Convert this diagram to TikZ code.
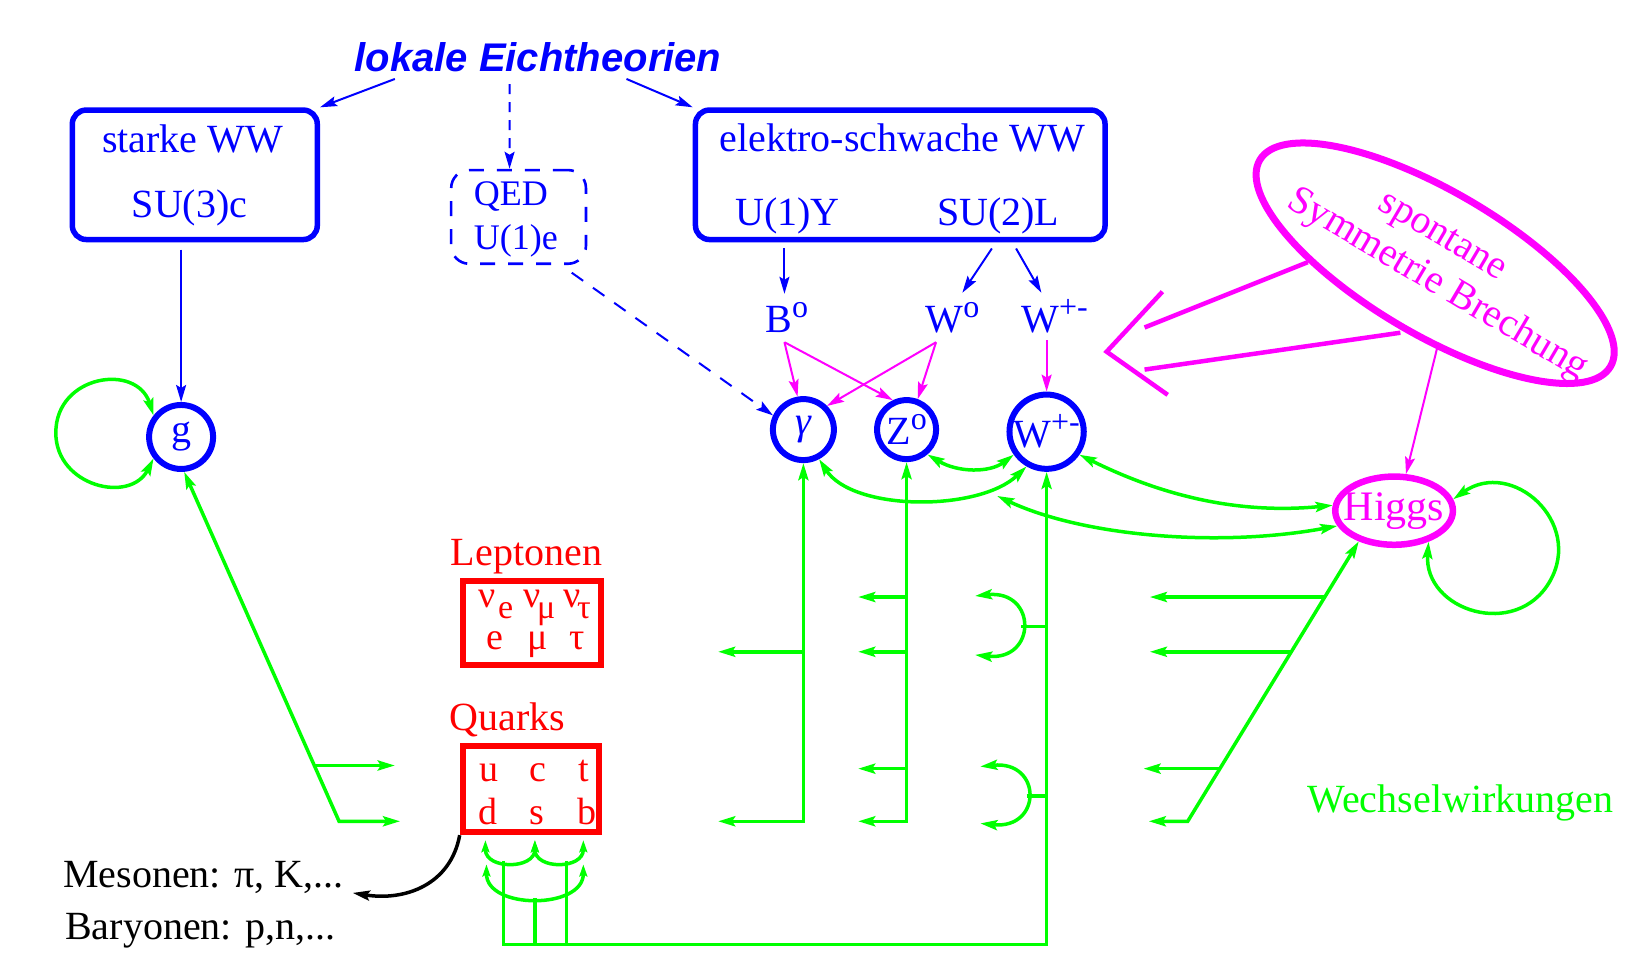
\documentclass[tikz,border=0pt]{standalone}
\usepackage{fontspec}
\setmainfont{Liberation Serif}
\newfontfamily\titlefont{Liberation Sans}
\usetikzlibrary{arrows.meta,shapes.geometric}
\definecolor{cb}{RGB}{0,0,255}
\definecolor{cg}{RGB}{0,255,0}
\definecolor{cm}{RGB}{255,0,255}
\definecolor{cr}{RGB}{255,0,0}
\newcommand\fsz[1]{\fontsize{#1}{#1}\selectfont}
\newcommand\hsp[1]{\raisebox{15pt}{\fsz{32}#1}}
\begin{document}
\begin{tikzpicture}[x=1.053pt,y=-1.053pt,
  >={Stealth[length=17pt,width=10pt,inset=3pt]},
  txt/.style={inner sep=0pt,outer sep=0pt,font=\fsz{40}},
  btxt/.style={txt,text=cb},
  rtxt/.style={txt,text=cr},
  mtxt/.style={txt,text=cm},
  ktxt/.style={txt,text=black},
  gtxt/.style={txt,text=cg},
  bbox/.style={draw=cb,line width=5.5pt,rounded corners=14pt,inner sep=0pt},
  qbox/.style={draw=cb,line width=2.6pt,rounded corners=18pt,inner sep=0pt,dash pattern=on 15pt off 13pt},
  rbox/.style={draw=cr,line width=6pt,inner sep=0pt},
  bcirc/.style={circle,draw=cb,line width=6pt,inner sep=0pt,text=cb,font=\fsz{40}},
  barr/.style={draw=cb,line width=2pt,->},
  marr/.style={draw=cm,line width=2pt,->},
  mthick/.style={draw=cm,line width=4.5pt},
  gl/.style={draw=cg,line width=3.5pt},
  gq/.style={gl,{Stealth[length=12pt,width=8pt,inset=2pt]}-{Stealth[length=12pt,width=8pt,inset=2pt]}},
  karr/.style={draw=black,line width=3.5pt,->},
]
\useasboundingbox (0,0) rectangle (1568,927);

% title
\node[txt,text=cb,font=\fsz{40}\titlefont\bfseries\itshape,anchor=base] (title) at (511,68) {lokale Eichtheorien};

% boxes
\node[bbox,minimum width=245pt,minimum height=129.5pt] (starke) at (185,166) {};
\node[btxt,anchor=base] (starkeA) at (183,145) {starke WW};
\node[btxt,anchor=base] (starkeB) at (180,207) {SU(3)c};

\node[bbox,minimum width=409.6pt,minimum height=129.5pt] (ew) at (855,166) {};
\node[btxt,anchor=base] (ewA) at (857,144) {elektro-schwache WW};
\node[btxt,anchor=base] (ewB) at (748,214) {U(1)Y};
\node[btxt,anchor=base] (ewC) at (948,214) {SU(2)L};

\node[qbox,minimum width=134.8pt,minimum height=93.7pt] (qed) at (492.5,206) {};
\node[btxt,font=\fsz{36},anchor=base west] (qedA) at (450,195) {QED};
\node[btxt,font=\fsz{36},anchor=base west] (qedB) at (450,237) {U(1)e};

% title arrows
\coordinate (t1) at (375,75);
\coordinate (t2) at (595,75);
\coordinate (t3) at (484,80);
\draw[barr] (t1) -- (starke.north east);
\draw[barr] (t2) -- (ew.north west);
\draw[barr,dash pattern=on 10pt off 8pt] (t3) -- ([xshift=-9pt]qed.north);

% gauge bosons
\node[bcirc,minimum size=64pt] (g) at (172,415) {g};
\node[bcirc,minimum size=61pt] (gam) at (763,408) {\itshape γ};
\node[bcirc,minimum size=59pt] (Z) at (861,408) {Z\hsp{o}};
\node[bcirc,minimum size=73pt] (W) at (994,410) {W\hsp{+-}};

\node[btxt,anchor=base west] (Bo) at (727,316) {B\hsp{o}};
\node[btxt,anchor=base west] (Wo) at (879,316) {W\hsp{o}};
\node[btxt,anchor=base west] (Wpm) at (970,316) {W\hsp{+-}};

\coordinate (s1) at (172,237);
\draw[barr] (s1) -- (g.north);
\coordinate (e1) at (745,236);
\coordinate (e2) at (942,236);
\coordinate (e3) at (965,236);
\coordinate (b1) at (745,279);
\coordinate (b2) at (914,278);
\coordinate (b3) at (989,278);
\draw[barr] (e1) -- (b1);
\draw[barr] (e2) -- (b2);
\draw[barr] (e3) -- (b3);

\coordinate (qS) at (543,259);
\draw[barr,dash pattern=on 14pt off 12pt] (qS) -- (gam.155);

% mixing
\coordinate (bS) at (745,325);
\coordinate (wS) at (889,325);
\coordinate (wpS) at (994,323);
\draw[marr] (bS) -- (gam.100);
\draw[marr] (bS) -- (Z.115);
\draw[marr] (wS) -- (gam.45);
\draw[marr] (wS) -- (Z.70);
\draw[marr] (wpS) -- (W.north);

% spontaneous symmetry breaking
\node[ellipse,draw=cm,line width=7pt,minimum width=407pt,minimum height=143pt,inner sep=0pt,rotate=-30.5] (ssb) at (1363,250) {};
\node[mtxt,rotate=-30.5,anchor=base] (sp1) at (1365.6,232) {spontane};
\node[mtxt,rotate=-30.5,anchor=base] (sp2) at (1360.5,278.2) {Symmetrie Brechung};
\coordinate (c1) at (1104,277);
\coordinate (c2) at (1051,334);
\coordinate (c3) at (1109,375);
\draw[mthick] (c1) -- (c2) -- (c3);
\coordinate (l1a) at (1242,249);
\coordinate (l1b) at (1087,311);
\coordinate (l2a) at (1330,316);
\coordinate (l2b) at (1087,351);
\draw[mthick] (l1a) -- (l1b);
\draw[mthick] (l2a) -- (l2b);

% Higgs
\node[ellipse,draw=cm,line width=6.5pt,minimum width=117.7pt,minimum height=68.2pt,inner sep=0pt] (higgs) at (1324,485) {};
\node[mtxt,font=\fsz{42}] (higgsT) at (1324,485) {Higgs};
\coordinate (hS) at (1365,330);
\draw[marr] (hS) -- (higgs.72);

% fermions
\node[rtxt,anchor=base] (lepT) at (500,537) {Leptonen};
\node[rbox,minimum width=138pt,minimum height=84pt] (lep) at (505,591.5) {};
\node[rtxt,font=\fsz{38},anchor=base west] (n1) at (454,577) {ν};
\node[rtxt,font=\fsz{38},anchor=base west] (n2) at (497,577) {ν};
\node[rtxt,font=\fsz{38},anchor=base west] (n3) at (535,577) {ν};
\node[rtxt,font=\fsz{34},anchor=base west] (n1s) at (473,587) {e};
\node[rtxt,font=\fsz{34},anchor=base west] (n2s) at (510,587) {μ};
\node[rtxt,font=\fsz{34},anchor=base west] (n3s) at (548,587) {τ};
\node[rtxt,font=\fsz{38},anchor=base west] (l1) at (462,617) {e};
\node[rtxt,font=\fsz{38},anchor=base west] (l2) at (501,617) {μ};
\node[rtxt,font=\fsz{38},anchor=base west] (l3) at (541,617) {τ};

\node[rtxt,anchor=base] (quT) at (482,694) {Quarks};
\node[rbox,minimum width=136pt,minimum height=86pt] (qu) at (504,749.5) {};
\node[rtxt,font=\fsz{38},anchor=base west] (q1) at (455,742) {u};
\node[rtxt,font=\fsz{38},anchor=base west] (q2) at (503,742) {c};
\node[rtxt,font=\fsz{38},anchor=base west] (q3) at (549,742) {t};
\node[rtxt,font=\fsz{38},anchor=base west] (q4) at (454,783) {d};
\node[rtxt,font=\fsz{38},anchor=base west] (q5) at (503,783) {s};
\node[rtxt,font=\fsz{38},anchor=base west] (q6) at (548,783) {b};

\node[ktxt,anchor=base west] (mes) at (60,843) {Mesonen: π, K,...};
\node[ktxt,anchor=base west] (bar) at (62,892) {Baryonen: p,n,...};
\coordinate (mT) at (335,848);
\draw[karr] (qu.south west) .. controls (428,840) and (385,856) .. (mT);

\node[gtxt] (ww) at (1387,763) {Wechselwirkungen};

% ---- green interactions ----
% gluon self coupling
\draw[gl,<->] (g.-142) .. controls (123.7,478.8) and (53,461.9) .. (53,411) .. controls (53,355.9) and (129.9,344.3) .. (g.142);
% gluon - quarks
\coordinate (ga) at (322,780);
\coordinate (gaE) at (380,780);
\coordinate (gb) at (298.5,727);
\coordinate (gbE) at (375,727);
\draw[gl,<->] (gaE) -- (ga) -- (g.-85);
\draw[gl,->] (gb) -- (gbE);

% photon
\draw[gl,<->] (682,780) -- (763,780) -- (gam.south);
\draw[gl,->] (763,619) -- (682,619);
% Z
\draw[gl,<->] (815,780) -- (861,780) -- (Z.south);
\draw[gl,->] (861,567) -- (815,567);
\draw[gl,->] (861,619) -- (815,619);
\draw[gl,->] (861,730) -- (815,730);
% W
\draw[gl,->] (478,818) -- (478,897) -- (994,897) -- (W.south);
\draw[gl] (508,853) -- (508,897);
\draw[gl] (537.8,818) -- (537.8,897);
\draw[gq] (461,798) .. controls (461,826) and (508,826) .. (508,798);
\draw[gq] (508,798) .. controls (508,826) and (554,826) .. (554,798);
\draw[gq] (462,821) .. controls (462,864) and (554,864) .. (554,821);
\draw[gl,<->] (926,566) .. controls (985,560) and (985,628) .. (926,622);
\draw[gl] (970,595) -- (994,595);
\draw[gl,<->] (931,728) .. controls (990,722) and (990,788) .. (931,782);
\draw[gl] (975,756) -- (994,756);
% Higgs - fermions
\draw[gl,<->] (1091,780) -- (1128,780) -- (higgs.-139);
\draw[gl,->] (1258,567) -- (1092,567);
\draw[gl,->] (1226.5,619) -- (1092,619);
\draw[gl,->] (1158.6,730) -- (1086,730);
% boson couplings
\draw[gl,<->] (gam.-62) .. controls (810,486) and (930,486) .. (W.-120);
\draw[gl,<->] (Z.-50) .. controls (910,449) and (940,449) .. (W.-145);
\draw[gl,<->] (W.-35) .. controls (1110,474) and (1182,488) .. (higgs.175);
\coordinate (hw) at (947,471);
\draw[gl,<->] (hw) .. controls (1030,510) and (1160,520) .. (higgs.-165);
\draw[gl,<->] (higgs.11) .. controls (1436,435) and (1504,496) .. (1472,552) .. controls (1440,608) and (1352,580) .. (higgs.-42);
\end{tikzpicture}
\end{document}
